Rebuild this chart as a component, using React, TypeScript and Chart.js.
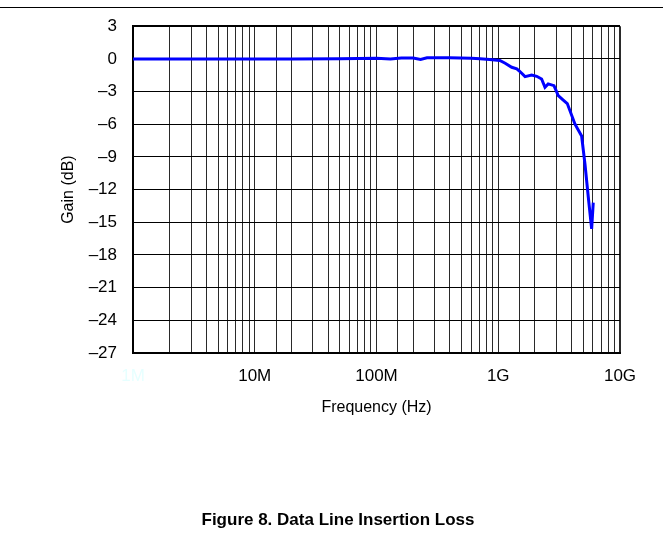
import React, { useEffect, useRef } from "react";
import { Chart, registerables } from "chart.js";

Chart.register(...registerables);

// Frequency (Hz) and gain (dB)
const freqHz: number[] = [
  1e6, 2e6, 5e6, 1e7, 2e7, 5e7, 1e8, 1.3e8, 1.6e8, 2e8, 2.3e8, 2.6e8, 4e8, 6e8, 7.1e8, 8.5e8,
  1.03e9, 1.14e9, 1.29e9, 1.42e9, 1.5e9, 1.66e9, 1.88e9, 2.07e9, 2.27e9, 2.42e9, 2.57e9,
  2.87e9, 3.11e9, 3.42e9, 3.69e9, 4.27e9, 4.84e9, 5.16e9, 5.5e9, 5.85e9, 6.03e9,
];
const gainDb: number[] = [
  0, 0, 0, 0, 0, 0.02, 0.05, 0, 0.07, 0.08, -0.05, 0.1, 0.1, 0.06, 0.02, -0.05,
  -0.15, -0.4, -0.77, -0.92, -1.14, -1.63, -1.48, -1.6, -1.85, -2.6, -2.3,
  -2.46, -3.38, -3.78, -4.1, -6.0, -7.08, -9.7, -12.77, -15.6, -13.2,
];

const decadeLabels: Record<string, string> = {
  "1000000": "1M",
  "10000000": "10M",
  "100000000": "100M",
  "1000000000": "1G",
  "10000000000": "10G",
};

const yTicks: number[] = [3, 0, -3, -6, -9, -12, -15, -18, -21, -24, -27];

const FONT = "'Liberation Sans', Arial, Helvetica, sans-serif";

export default function App() {
  const canvasRef = useRef<HTMLCanvasElement | null>(null);

  useEffect(() => {
    if (!canvasRef.current) return;
    const chart = new Chart(canvasRef.current, {
      type: "line",
      data: {
        datasets: [
          {
            data: freqHz.map((f, i) => ({ x: f, y: gainDb[i] })),
            borderColor: "#0000ff",
            borderWidth: 3,
            pointRadius: 0,
            tension: 0,
            fill: false,
          },
        ],
      },
      options: {
        animation: false,
        responsive: false,
        maintainAspectRatio: false,
        layout: { padding: { left: 59, right: 43, top: 23, bottom: 0 } },
        plugins: {
          legend: { display: false },
          tooltip: { enabled: false },
        },
        scales: {
          x: {
            type: "logarithmic",
            min: 1e6,
            max: 1e10,
            afterFit: (scale: any) => {
              scale.height = 205;
            },
            border: { display: true, color: "#000", width: 2 },
            grid: {
              drawTicks: false,
              color: "#2a2a2a",
              lineWidth: (ctx: any) => (ctx.tick && ctx.tick.value >= 1e10 ? 2 : 1),
            },
            ticks: {
              autoSkip: false,
              maxRotation: 0,
              padding: 13,
              font: { family: FONT, size: 17 },
              color: (ctx: any) =>
                ctx.tick && ctx.tick.value === 1e6 ? "#e6ffff" : "#000",
              callback: (value: any) => decadeLabels[String(Number(value))] ?? "",
            },
            title: {
              display: true,
              text: "Frequency (Hz)",
              color: "#000",
              font: { family: FONT, size: 16 },
              padding: { top: 0, bottom: 141 },
            },
          },
          y: {
            type: "linear",
            min: -27,
            max: 3,
            afterFit: (scale: any) => {
              scale.width = 74;
            },
            afterBuildTicks: (scale: any) => {
              scale.ticks = yTicks.map((v) => ({ value: v }));
            },
            border: { display: true, color: "#000", width: 2 },
            grid: {
              drawTicks: false,
              color: "#000",
              lineWidth: (ctx: any) => (ctx.tick && ctx.tick.value >= 3 ? 2 : 1),
            },
            ticks: {
              padding: 16,
              font: { family: FONT, size: 17 },
              color: "#000",
              callback: (value: any) => {
                const v = Number(value);
                return v < 0 ? "\u2013" + Math.abs(v) : String(v);
              },
            },
            title: {
              display: true,
              text: "Gain (dB)",
              color: "#000",
              font: { family: FONT, size: 16 },
              padding: { top: 0, bottom: 0 },
            },
          },
        },
      },
    } as any);
    return () => chart.destroy();
  }, []);

  return (
    <div
      style={{
        position: "absolute",
        left: 0,
        top: 0,
        width: 663,
        height: 558,
        background: "#fff",
        overflow: "hidden",
      }}
    >
      <div
        style={{
          position: "absolute",
          left: 0,
          top: 7,
          width: 663,
          height: 1,
          background: "#000",
        }}
      />
      <canvas
        ref={canvasRef}
        width={663}
        height={558}
        style={{ position: "absolute", left: 0, top: 0, width: 663, height: 558 }}
      />
      <div
        style={{
          position: "absolute",
          left: 0,
          width: 676,
          top: 510,
          textAlign: "center",
          fontFamily: FONT,
          fontWeight: "bold",
          fontSize: 17,
          color: "#000",
        }}
      >
        Figure 8. Data Line Insertion Loss
      </div>
    </div>
  );
}
